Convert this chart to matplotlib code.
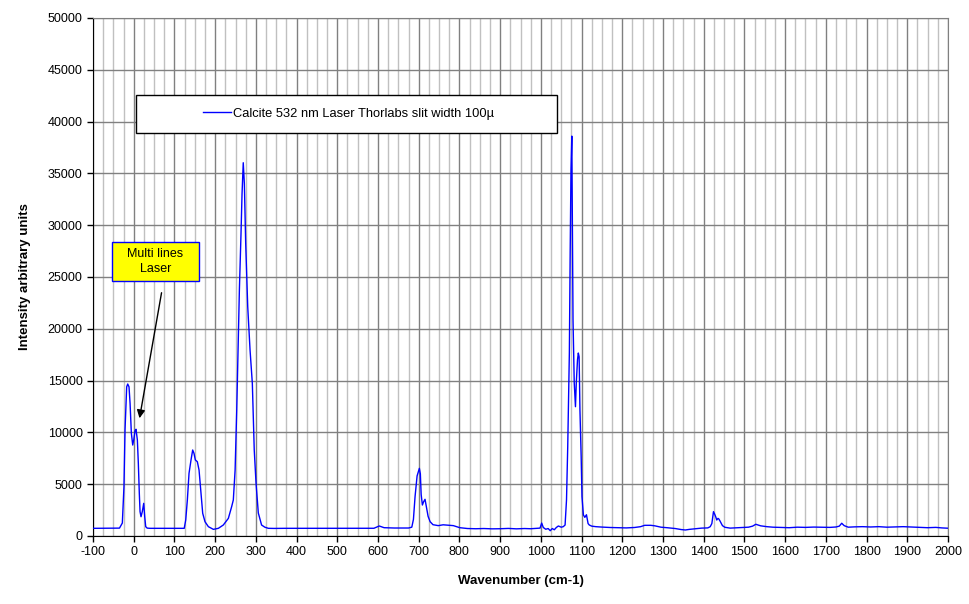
import matplotlib.pyplot as plt
from matplotlib.patches import Rectangle
import numpy as np

plt.rcParams['font.family'] = ['Liberation Sans', 'DejaVu Sans']
plt.rcParams['axes.unicode_minus'] = False

# spectrum (wavenumber cm-1, intensity)
wavenumber = [-100, -80, -60, -45, -35, -28, -24, -21.4, -17.3, -14.8, -11.6, -9, -5.9, -2.5, 0,
              3.2, 5.6, 8.9, 11.3, 13.7, 15.5, 17.9, 21, 24.5, 27, 29.4, 33, 40, 60, 80, 100, 115,
              124, 127.7, 131.7, 135.8, 140.7, 144.8, 148, 151.3, 156.2, 160.4, 165.3, 169.4, 175,
              183.3, 195.6, 207.9, 220, 232.4, 240.5, 244.6, 249, 253, 257, 259.5, 263.5, 266, 269,
              271.7, 275, 280, 285.7, 291.3, 296, 300.4, 306, 314, 322, 330.6, 345, 370, 400, 430,
              460, 500, 530, 560, 590, 603, 615, 640, 660, 675, 683, 687, 691, 696, 699, 701.6, 704,
              706, 709, 712, 715.5, 719, 723, 728, 735, 748, 760, 769, 785, 801, 820, 840, 860,
              880, 900, 920, 940, 960, 975, 990, 998, 1002, 1006, 1012, 1018, 1023, 1028, 1033,
              1038, 1043, 1050, 1055, 1059.5, 1063, 1066, 1070, 1072, 1074, 1076, 1077.5, 1079,
              1082, 1085, 1087, 1090, 1092, 1094, 1096, 1099, 1101, 1104.5, 1108, 1112, 1116,
              1119, 1125, 1135, 1150, 1170, 1190, 1210, 1230, 1245, 1255, 1270, 1280, 1295, 1310,
              1330, 1345, 1355, 1365, 1380, 1395, 1410, 1416, 1420, 1424, 1427, 1430, 1432, 1435,
              1437, 1440, 1446, 1452, 1465, 1480, 1495, 1510, 1520, 1528, 1540, 1555, 1570, 1590,
              1610, 1630, 1650, 1670, 1690, 1710, 1725, 1733, 1739, 1745, 1755, 1770, 1790, 1810,
              1830, 1850, 1870, 1890, 1910, 1930, 1950, 1970, 1985, 2000]
intensity = [740, 745, 740, 745, 760, 1250, 4760, 10230, 14400, 14670, 14400, 12800, 9940, 8780, 9270,
             10160, 10300, 9270, 7010, 4120, 2350, 1860, 2350, 3150, 1860, 900, 760, 740, 740, 745, 740, 740,
             740, 1540, 3475, 6050, 7340, 8300, 7980, 7340, 7170, 6370, 4120, 2190, 1380,
             900, 640, 740, 1060, 1700, 2830, 3475, 6370, 12160, 19240, 23750, 29200, 33000, 36030,
             34040, 28250, 22130, 17950, 14740, 8300, 5100, 2220, 1060, 850, 740, 730, 740, 740, 750,
             735, 745, 740, 740, 745, 965, 800, 770, 775, 770, 850, 1600, 3800, 5800, 6200, 6530, 6000,
             4000, 2990, 3300, 3540, 2800, 1900, 1380, 1090, 1000, 1080, 1050, 1000, 800, 720, 700, 720,
             690, 700, 730, 690, 720, 700, 740, 760, 1250, 820, 650, 720, 510, 720, 600,
             820, 965, 850, 900, 1060, 3475, 8620, 17660, 27300, 35300, 38600, 30200, 20850,
             14770, 12480, 14770, 17000, 17660, 17300, 12160, 7650, 3800, 2030, 1800, 2050, 1200,
             1060, 950, 900, 860, 820, 800, 780, 820, 900, 1030, 1030, 980, 850, 800,
             720, 620, 580, 640, 700, 760, 780, 900, 1200, 2350, 2100, 1800, 1540, 1700,
             1650, 1450, 1000, 840, 760, 790, 820, 850, 950, 1130, 980, 900, 850, 830,
             800, 850, 830, 860, 850, 830, 870, 950, 1230, 1000, 850, 880, 900, 870,
             900, 850, 880, 900, 870, 850, 800, 830, 780, 750]

legend_label = 'Calcite 532 nm Laser Thorlabs slit width 100µ'
note_text = 'Multi lines\nLaser'

fig = plt.figure(figsize=(9.7, 6.04), dpi=100)
ax = fig.add_axes([0.0959, 0.1126, 0.8814, 0.8576])

ax.plot(wavenumber, intensity, color='#0000FF', lw=1, label=legend_label, zorder=3)

ax.set_xlim(-100, 2000)
ax.set_ylim(0, 50000)
ax.set_xticks(np.arange(-100, 2001, 100))
ax.set_xticks(np.arange(-100, 2001, 25), minor=True)
ax.set_yticks(np.arange(0, 50001, 5000))
ax.grid(which='minor', axis='x', color='#C0C0C0', lw=1, zorder=0)
ax.grid(which='major', axis='both', color='#808080', lw=1, zorder=1)
ax.set_axisbelow(True)
ax.tick_params(axis='both', which='major', labelsize=9, length=4, width=1, direction='out', color='black')
ax.tick_params(axis='x', which='minor', length=0)
for side in ['top', 'right']:
    ax.spines[side].set_color('#808080')
for side in ['left', 'bottom']:
    ax.spines[side].set_color('black')

ax.set_xlabel('Wavenumber (cm-1)', fontsize=9.5, fontweight='bold', labelpad=12)
ax.set_ylabel('Intensity arbitrary units', fontsize=9.5, fontweight='bold', labelpad=12)

# legend box
ax.add_patch(Rectangle((0.0503, 0.778), 0.4924, 0.0734, transform=ax.transAxes,
                       facecolor='white', edgecolor='black', lw=1, zorder=4))
ax.legend(loc='center', bbox_to_anchor=(0.2985, 0.8147), frameon=False, fontsize=9.3,
          handlelength=2.2, handletextpad=0.1).set_zorder(5)

# yellow note with arrow
ax.add_patch(Rectangle((0.0222, 0.4923), 0.1018, 0.0753, transform=ax.transAxes,
                       facecolor='#FFFF00', edgecolor='#0000FF', lw=1, zorder=4))
ax.text(0.0731, 0.53, note_text, transform=ax.transAxes, ha='center', va='center',
        fontsize=9, linespacing=1.4, zorder=5)
ax.annotate('', xy=(13, 11100), xytext=(69.5, 23745),
            arrowprops=dict(arrowstyle='-|>', color='black', lw=1, mutation_scale=12), zorder=5)

fig.savefig('out.png', dpi=100)
